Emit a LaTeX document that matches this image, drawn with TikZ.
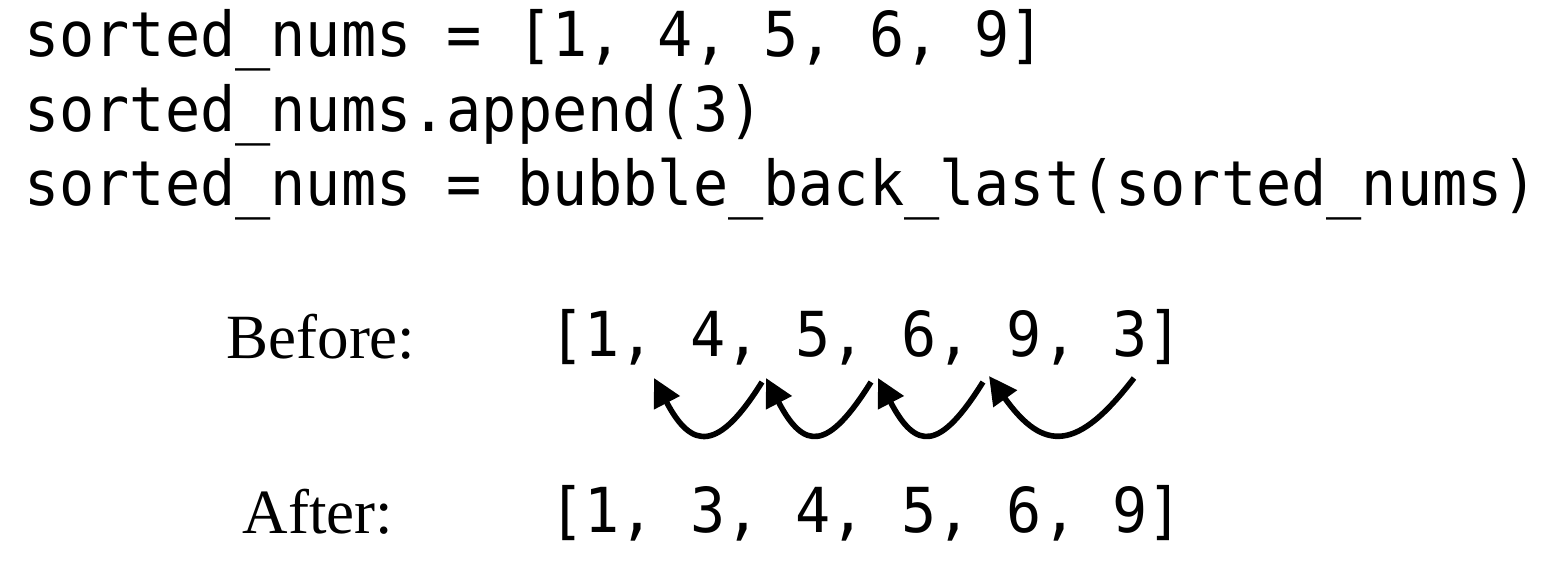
\documentclass[tikz,border=0pt]{standalone}
\usepackage{fontspec}
\newfontfamily\codefont[FakeStretch=0.943]{DejaVu Sans Mono}
\newfontfamily\labelfont{Liberation Serif}
\usetikzlibrary{arrows.meta}
\tikzset{
  code/.style={anchor=base west, inner sep=0pt, font=\codefont\fontsize{31}{31}\selectfont},
  lbl/.style={anchor=base, inner sep=0pt, font=\labelfont\fontsize{31.5}{31.5}\selectfont},
  arr/.style={line width=2.8pt, -{Triangle[length=14pt,width=14pt]}},
}
\begin{document}
\begin{tikzpicture}[x=0.5pt,y=-0.5pt]
\useasboundingbox (0,0) rectangle (1558,566);
\node[code] (l1) at (24,57) {sorted\_nums = [1, 4, 5, 6, 9]};
\node[code] (l2) at (24,132) {sorted\_nums.append(3)};
\node[code] (l3) at (24,206) {sorted\_nums = bubble\_back\_last(sorted\_nums)};
\node[lbl] (before) at (321,359) {Before:};
\node[code] (blist) at (549,357) {[1, 4, 5, 6, 9, 3]};
\node[lbl] (after) at (318,533) {After:};
\node[code] (alist) at (549,532) {[1, 3, 4, 5, 6, 9]};
\coordinate (t1) at (762,382); \coordinate (h1) at (654,378);
\coordinate (t2) at (871,382); \coordinate (h2) at (766,378);
\coordinate (t3) at (983,382); \coordinate (h3) at (878,378);
\coordinate (t4) at (1134,378); \coordinate (h4) at (989,376);
\draw[arr] (t1) .. controls (719,451) and (692,451) .. (h1);
\draw[arr] (t2) .. controls (828,451) and (804,451) .. (h2);
\draw[arr] (t3) .. controls (940,451) and (916,451) .. (h3);
\draw[arr] (t4) .. controls (1078,451) and (1044,453) .. (h4);
\end{tikzpicture}
\end{document}
